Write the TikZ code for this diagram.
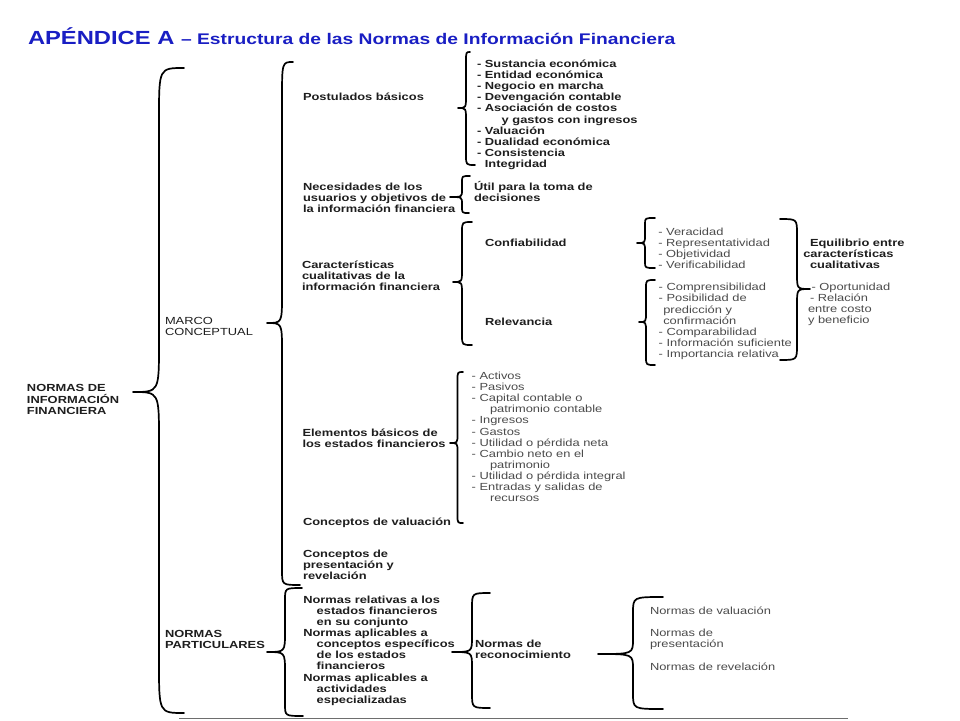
\documentclass[tikz,border=0pt]{standalone}
\usepackage{fontspec}
\setmainfont{Liberation Sans}[FakeStretch=1.25]
\usetikzlibrary{calc}
\definecolor{titleblue}{RGB}{25,30,195}
\definecolor{boldtxt}{RGB}{30,30,30}
\definecolor{regtxt}{RGB}{75,75,75}
\definecolor{rulegray}{RGB}{110,110,110}
\newcommand\mlines[1]{\begin{tabular}[t]{@{}l@{}}#1\end{tabular}}
% #1 top end, #2 tip, #3 bottom end, #4 x of the stem, #5 top curl, #6 tip curl, #7 bottom curl
\newcommand\curlybr[7]{%
  \draw[brc] let \p1=(#1), \p2=(#2), \p3=(#3) in
    (\p1) .. controls (#4pt,\y1) .. (#4pt,\y1-#5pt)
    -- (#4pt,\y2+#6pt) .. controls (#4pt,\y2) .. (\p2)
    .. controls (#4pt,\y2) .. (#4pt,\y2-#6pt)
    -- (#4pt,\y3+#7pt) .. controls (#4pt,\y3) .. (\p3);}
\begin{document}
\begin{tikzpicture}[x=1pt,y=-1pt,
  every node/.style={inner sep=0pt, outer sep=0pt, anchor=base west},
  bt/.style={font=\fontsize{10.3}{11.15}\selectfont\bfseries, text=boldtxt},
  rt/.style={font=\fontsize{10.3}{11.15}\selectfont, text=regtxt},
  brc/.style={draw=black, line width=1.7pt, line cap=round, line join=round}]
\useasboundingbox (0,0) rectangle (960,720);
\fill[white] (0,0) rectangle (960,720);

% title
\node[text=titleblue, font=\bfseries] (title) at (28,44)
  {\fontsize{19}{22}\selectfont APÉNDICE A \fontsize{15.4}{18}\selectfont– Estructura de las Normas de Información Financiera};

% level 0 and 1
\node[bt] (nif) at (27,391) {\mlines{NORMAS DE\\INFORMACIÓN\\FINANCIERA}};
\node[rt, text=boldtxt] (marco) at (165,324) {\mlines{MARCO\\CONCEPTUAL}};
\node[bt] (npart) at (165,637) {\mlines{NORMAS\\PARTICULARES}};

% marco conceptual
\node[bt] (post) at (303,100.5) {Postulados básicos};
\node[bt] (postlist) at (477,67.3) {\mlines{- Sustancia económica\\- Entidad económica\\- Negocio en marcha\\- Devengación contable\\- Asociación de costos\\\hspace*{24.7pt}y gastos con ingresos\\- Valuación\\- Dualidad económica\\- Consistencia\\\hphantom{- }Integridad}};
\node[bt] (nec) at (303,190) {\mlines{Necesidades de los\\usuarios y objetivos de\\la información financiera}};
\node[bt] (util) at (474,190) {\mlines{Útil para la toma de\\decisiones}};
\node[bt] (carac) at (302,268) {\mlines{Características\\cualitativas de la\\información financiera}};
\node[bt] (conf) at (485,246) {Confiabilidad};
\node[bt] (relev) at (485,325) {Relevancia};
\node[rt] (conflist) at (658.3,235) {\mlines{- Veracidad\\- Representatividad\\- Objetividad\\- Verificabilidad}};
\node[rt] (relevlist) at (658.7,290.7) {\mlines{- Comprensibilidad\\- Posibilidad de\\\hspace*{4.6pt}predicción y\\\hspace*{4.6pt}confirmación\\- Comparabilidad\\- Información suficiente\\- Importancia relativa}};
\node[bt] (equil) at (803.3,246.5) {\mlines{\hspace*{6.7pt}Equilibrio entre\\características\\\hspace*{6.7pt}cualitativas}};
\node[rt] (oport) at (808,290.5) {\mlines{\hspace*{3.5pt}- Oportunidad\\\hspace*{2pt}- Relación\\entre costo\\y beneficio}};
\node[bt] (elem) at (302.5,436) {\mlines{Elementos básicos de\\los estados financieros}};
\node[rt] (elemlist) at (471.7,379.3) {\mlines{- Activos\\- Pasivos\\- Capital contable o\\\hspace*{18.3pt}patrimonio contable\\- Ingresos\\- Gastos\\- Utilidad o pérdida neta\\- Cambio neto en el\\\hspace*{18.3pt}patrimonio\\- Utilidad o pérdida integral\\- Entradas y salidas de\\\hspace*{18.3pt}recursos}};
\node[bt] (cval) at (303,525) {Conceptos de valuación};
\node[bt] (cpres) at (303,557) {\mlines{Conceptos de\\presentación y\\revelación}};

% normas particulares
\node[bt] (nrel) at (303.3,603) {\mlines{Normas relativas a los\\\hspace*{13.4pt}estados financieros\\\hspace*{13.4pt}en su conjunto\\Normas aplicables a\\\hspace*{13.4pt}conceptos específicos\\\hspace*{13.4pt}de los estados\\\hspace*{13.4pt}financieros\\Normas aplicables a\\\hspace*{13.4pt}actividades\\\hspace*{13.4pt}especializadas}};
\node[bt] (nrec) at (475,647) {\mlines{Normas de\\reconocimiento}};
\node[rt] (nval) at (650,614) {Normas de valuación};
\node[rt] (npres) at (650,636) {\mlines{Normas de\\presentación}};
\node[rt] (nrev) at (650,670) {Normas de revelación};

% brace points
\coordinate (b1t) at (184,68);  \coordinate (b1m) at (133,392); \coordinate (b1b) at (184,713);
\coordinate (b2t) at (293,62);  \coordinate (b2m) at (267,323); \coordinate (b2b) at (300,585);
\coordinate (b3t) at (302,588); \coordinate (b3m) at (267,652); \coordinate (b3b) at (303,716);
\coordinate (b4t) at (470,52);  \coordinate (b4m) at (458,108); \coordinate (b4b) at (475,165);
\coordinate (b5t) at (470,176); \coordinate (b5m) at (450,197); \coordinate (b5b) at (469,213);
\coordinate (b6t) at (472,222); \coordinate (b6m) at (453,282); \coordinate (b6b) at (472,345);
\coordinate (b7t) at (655,218); \coordinate (b7m) at (637,243); \coordinate (b7b) at (655,268);
\coordinate (b8t) at (655,280); \coordinate (b8m) at (639,322); \coordinate (b8b) at (655,365);
\coordinate (b9t) at (780,219); \coordinate (b9m) at (810,289); \coordinate (b9b) at (780,360);
\coordinate (b10t) at (463,372); \coordinate (b10m) at (450,443); \coordinate (b10b) at (463,523);
\coordinate (b11t) at (490,593); \coordinate (b11m) at (452,652); \coordinate (b11b) at (490,708);
\coordinate (b12t) at (663,597); \coordinate (b12m) at (598,654); \coordinate (b12b) at (663,709);

\curlybr{b1t}{b1m}{b1b}{159}{50}{48}{50}
\curlybr{b2t}{b2m}{b2b}{282}{38}{28}{15}
\curlybr{b3t}{b3m}{b3b}{285}{12}{20}{12}
\curlybr{b4t}{b4m}{b4b}{466}{10}{12}{10}
\curlybr{b5t}{b5m}{b5b}{462}{6}{7}{6}
\curlybr{b6t}{b6m}{b6b}{462}{10}{12}{10}
\curlybr{b7t}{b7m}{b7b}{645}{6}{8}{6}
\curlybr{b8t}{b8m}{b8b}{646}{8}{10}{8}
\curlybr{b9t}{b9m}{b9b}{797}{15}{15}{15}
\curlybr{b10t}{b10m}{b10b}{457.5}{8}{9}{8}
\curlybr{b11t}{b11m}{b11b}{472}{15}{15}{15}
\curlybr{b12t}{b12m}{b12b}{633}{16}{15}{16}

% bottom rule
\coordinate (ruleL) at (179,718); \coordinate (ruleR) at (848,718);
\draw[rulegray, line width=0.8pt] (ruleL) -- (ruleR);
\end{tikzpicture}
\end{document}
